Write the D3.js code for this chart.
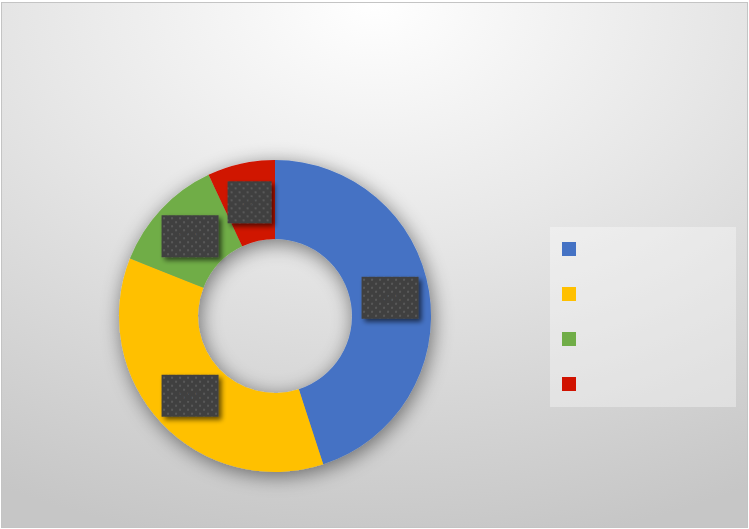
<!DOCTYPE html>
<html>
<head>
<meta charset="utf-8">
<script src="https://cdn.jsdelivr.net/npm/d3@7"></script>
<style>
  html, body { margin: 0; padding: 0; background: #ffffff; }
  svg { display: block; }
</style>
</head>
<body>
<svg id="chart" width="749" height="529"></svg>
<script>
// ---- data ----
const categories = ["1", "2", "3", "4"];
const values = [45, 36, 12, 7];
const labels = ["45%", "36%", "12%", "7%"];
const colors = ["#4472c4", "#ffc000", "#70ad47", "#d01200"];

// ---- layout ----
const W = 749, H = 529;
const svg = d3.select("#chart");
const defs = svg.append("defs");

const bg = defs.append("radialGradient").attr("id", "bg")
  .attr("cx", "50%").attr("cy", "0%").attr("r", "105%").attr("fx", "50%").attr("fy", "0%");
bg.append("stop").attr("offset", "0%").attr("stop-color", "#ffffff");
bg.append("stop").attr("offset", "45%").attr("stop-color", "#e6e6e6");
bg.append("stop").attr("offset", "100%").attr("stop-color", "#c6c6c6");

const shadow = defs.append("filter").attr("id", "ringShadow")
  .attr("x", "-30%").attr("y", "-30%").attr("width", "160%").attr("height", "160%");
shadow.append("feGaussianBlur").attr("in", "SourceAlpha").attr("stdDeviation", 10).attr("result", "b");
shadow.append("feOffset").attr("in", "b").attr("dx", 2).attr("dy", 4).attr("result", "o");
shadow.append("feComponentTransfer").attr("in", "o").attr("result", "s")
  .append("feFuncA").attr("type", "linear").attr("slope", 0.5);
const m1 = shadow.append("feMerge");
m1.append("feMergeNode").attr("in", "s");
m1.append("feMergeNode").attr("in", "SourceGraphic");

const lshadow = defs.append("filter").attr("id", "labelShadow")
  .attr("x", "-30%").attr("y", "-30%").attr("width", "160%").attr("height", "160%");
lshadow.append("feGaussianBlur").attr("in", "SourceAlpha").attr("stdDeviation", 2.5).attr("result", "b");
lshadow.append("feOffset").attr("in", "b").attr("dx", 3).attr("dy", 3).attr("result", "o");
lshadow.append("feComponentTransfer").attr("in", "o").attr("result", "s")
  .append("feFuncA").attr("type", "linear").attr("slope", 0.6);
const m2 = lshadow.append("feMerge");
m2.append("feMergeNode").attr("in", "s");
m2.append("feMergeNode").attr("in", "SourceGraphic");

const pat = defs.append("pattern").attr("id", "dots")
  .attr("patternUnits", "userSpaceOnUse").attr("width", 8).attr("height", 8);
pat.append("rect").attr("width", 8).attr("height", 8).attr("fill", "#404040");
pat.append("rect").attr("x", 1).attr("y", 1).attr("width", 2).attr("height", 2).attr("fill", "#595959");
pat.append("rect").attr("x", 5).attr("y", 5).attr("width", 2).attr("height", 2).attr("fill", "#595959");

// chart area background
svg.append("rect").attr("x", 1.5).attr("y", 2.5).attr("width", W - 3).attr("height", H - 4)
  .attr("fill", "url(#bg)").attr("stroke", "#c4c4c4").attr("stroke-width", 1);

// donut
const cx = 275, cy = 316, rOuter = 156, rInner = 77;
const pie = d3.pie().sort(null).value(d => d.value);
const arcs = pie(values.map((v, i) => ({ value: v, cat: categories[i], i })));
const arc = d3.arc().innerRadius(rInner).outerRadius(rOuter);

const g = svg.append("g").attr("transform", `translate(${cx},${cy})`);
g.append("g").attr("filter", "url(#ringShadow)")
  .selectAll("path").data(arcs).join("path")
  .attr("d", arc)
  .attr("fill", d => colors[d.data.i]);

// data labels (dark patterned boxes)
const lg = g.append("g");
arcs.forEach(d => {
  const [x, y] = arc.centroid(d);
  const txt = labels[d.data.i];
  const w = 18 + txt.length * 13, h = 42;
  const b = lg.append("g").attr("transform", `translate(${x},${y})`);
  b.append("rect").attr("x", -w / 2).attr("y", -h / 2).attr("width", w).attr("height", h)
    .attr("fill", "url(#dots)").attr("filter", "url(#labelShadow)");
  b.append("text").attr("text-anchor", "middle").attr("dy", "0.35em")
    .attr("font-family", "Calibri, Carlito, 'Liberation Sans', sans-serif")
    .attr("font-size", 14).attr("fill", "#404040").text(txt);
});

// legend
const legX = 550, legY = 227, legW = 186, legH = 180;
svg.append("rect").attr("x", legX).attr("y", legY).attr("width", legW).attr("height", legH)
  .attr("fill", "#ffffff").attr("fill-opacity", 0.35);
const legend = svg.append("g");
categories.forEach((c, i) => {
  legend.append("rect")
    .attr("x", 562).attr("y", 242 + i * 45)
    .attr("width", 14).attr("height", 14)
    .attr("fill", colors[i]);
});
</script>
</body>
</html>
